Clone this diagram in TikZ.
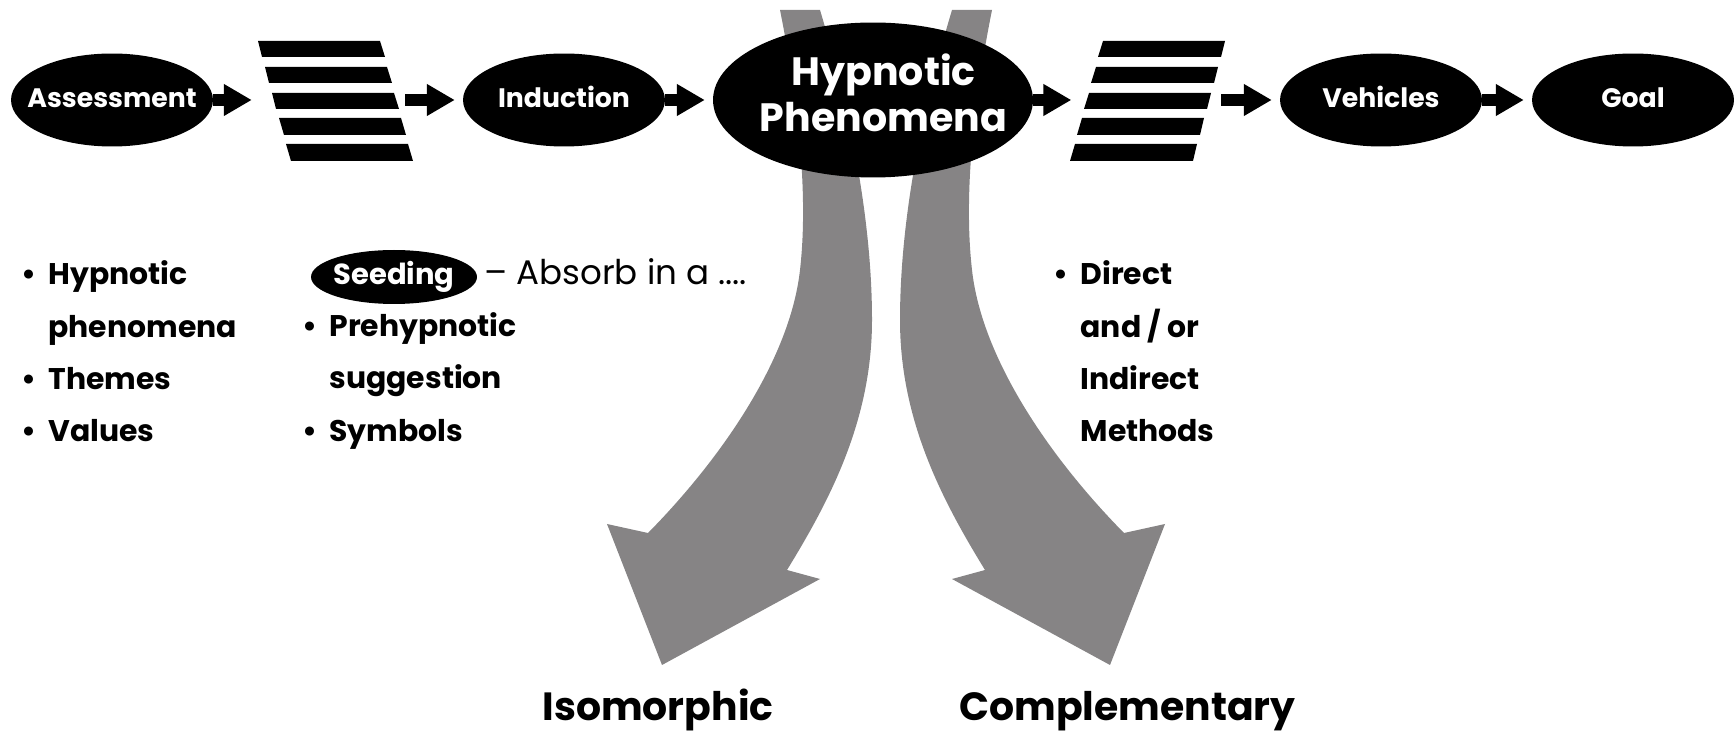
\documentclass[tikz,border=0pt]{standalone}
\usepackage{fontspec}
\setmainfont{Poppins}
\usepackage{tikz}
\usetikzlibrary{positioning}
\usetikzlibrary{shapes.geometric}
\usetikzlibrary{arrows.meta}
\definecolor{bandgray}{RGB}{134,132,133}
\newcommand{\bitem}{\makebox[15.5pt][l]{\textbullet}}
\newcommand{\bskip}{\hspace*{15.5pt}}
\newcommand{\nowidth}[1]{\makebox[0pt]{#1}}

\begin{document}
\begin{tikzpicture}[x=0.02cm,y=-0.02cm,
  blob/.style={ellipse,fill=black,text=white,inner sep=0pt,text depth=0pt},
  bubble/.style={blob,minimum width=4.04cm,minimum height=1.86cm,text height=8.5pt,font=\fontsize{15.2}{18}\selectfont\bfseries},
  bigbubble/.style={blob,minimum width=6.4cm,minimum height=3.1cm,text height=36.4pt,font=\fontsize{22.5}{26.7}\selectfont\bfseries},
  seedbubble/.style={blob,minimum width=3.32cm,minimum height=1.08cm,text height=9.1pt,font=\fontsize{16.5}{20}\selectfont\bfseries},
  sieve/.style={minimum width=#1,minimum height=2.4cm,inner sep=0pt},
  stripe/.style={fill=black},
  band/.style={fill=bandgray},
  flowarrow/.style={line width=6.8pt,-{Triangle[length=15.9pt,width=17.1pt]},shorten >=4.5pt},
  listtext/.style={inner sep=0pt,anchor=base west,font=\fontsize{17}{29.6}\selectfont\bfseries},
  endlabel/.style={inner sep=0pt,anchor=base,font=\fontsize{22.4}{26}\selectfont\bfseries}]
 \useasboundingbox (0,0) rectangle (1734,732);
 \fill[band] (780,10) .. controls (800,110) and (808,200) .. (800,270) .. controls (790,360) and (720,460) .. (648,533) -- (607,524) -- (662,665) -- (820,579) -- (787,570) .. controls (830,500) and (872,420) .. (872,320) .. controls (872,220) and (850,110) .. (820,10) -- cycle;
 \fill[band] (992,10) .. controls (972,110) and (964,200) .. (972,270) .. controls (982,360) and (1052,460) .. (1124,533) -- (1165,524) -- (1110,665) -- (952,579) -- (985,570) .. controls (942,500) and (900,420) .. (900,320) .. controls (900,220) and (922,110) .. (952,10) -- cycle;
 \node[bubble] (assess) at (112,100) {\nowidth{Assessment}};
 \node[sieve=2.9cm] (sieveA) at (332.5,100) {};
 \node[bubble] (induct) at (564,100) {\nowidth{Induction}};
 \node[bigbubble] (hypno) at (873,100) {\nowidth{\hspace{12pt}\begin{tabular}[b]{@{}c@{}}Hypnotic\\Phenomena\end{tabular}}};
 \node[sieve=2.83cm] (sieveB) at (1150.3,100) {};
 \node[bubble] (vehic) at (1381,100) {\nowidth{Vehicles}};
 \node[bubble] (goal) at (1633,100) {\nowidth{Goal}};
 \fill[stripe] (258,41) -- (380,41) -- (385,57) -- (262,57) -- cycle;
 \fill[stripe] (265,67) -- (387,67) -- (392,83) -- (269,83) -- cycle;
 \fill[stripe] (272,93) -- (394,93) -- (399,109) -- (276,109) -- cycle;
 \fill[stripe] (279,118) -- (401,118) -- (406,135) -- (284,135) -- cycle;
 \fill[stripe] (286,144) -- (408,144) -- (413,161) -- (291,161) -- cycle;
 \fill[stripe] (1103,41) -- (1225,41) -- (1221,57) -- (1098,57) -- cycle;
 \fill[stripe] (1096,67) -- (1218,67) -- (1214,83) -- (1091,83) -- cycle;
 \fill[stripe] (1089,93) -- (1211,93) -- (1207,109) -- (1084,109) -- cycle;
 \fill[stripe] (1082,118) -- (1204,118) -- (1200,135) -- (1077,135) -- cycle;
 \fill[stripe] (1075,144) -- (1197,144) -- (1193,161) -- (1070,161) -- cycle;
 \draw[flowarrow] (assess) -- (sieveA);
 \draw[flowarrow] (sieveA) -- (induct);
 \draw[flowarrow] (induct) -- (hypno);
 \draw[flowarrow] (hypno) -- (sieveB);
 \draw[flowarrow] (sieveB) -- (vehic);
 \draw[flowarrow] (vehic) -- (goal);
 \node[listtext] (assesslist) at (21,285) {\begin{tabular}[t]{@{}l@{}}\bitem Hypnotic\\ \bskip phenomena\\ \bitem Themes\\ \bitem Values\end{tabular}};
 \node[seedbubble] (seed) at (394,277) {\nowidth{Seeding}};
 \node[inner sep=0pt,anchor=base west,font=\fontsize{19.4}{22}\selectfont] (absorb) at (484,285) {– Absorb in a ....};
 \node[listtext] (seedlist) at (302,337) {\begin{tabular}[t]{@{}l@{}}\bitem Prehypnotic\\ \bskip suggestion\\ \bitem Symbols\end{tabular}};
 \node[listtext] (methodlist) at (1053,285) {\begin{tabular}[t]{@{}l@{}}\bitem Direct\\ \bskip and / or\\ \bskip Indirect\\ \bskip Methods\end{tabular}};
 \node[endlabel] (iso) at (658,720) {Isomorphic};
 \node[endlabel] (compl) at (1127.5,720) {Complementary};
\end{tikzpicture}
\end{document}
